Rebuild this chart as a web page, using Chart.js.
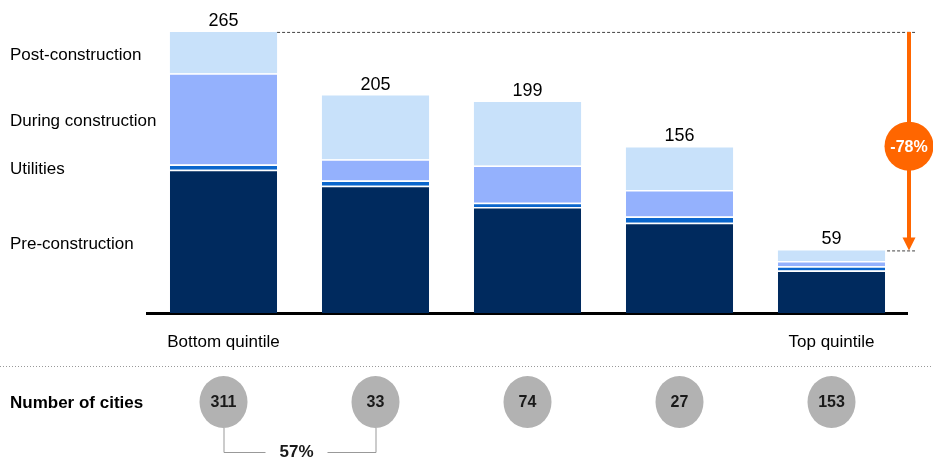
<!DOCTYPE html>
<html>
<head>
<meta charset="utf-8">
<script src="https://cdn.jsdelivr.net/npm/chart.js@4"></script>
<style>
  body { margin: 0; background: #fff; }
  #wrap { width: 933px; height: 461px; }
</style>
</head>
<body>
<div id="wrap"><canvas id="costChart" width="933" height="461"></canvas></div>
<script>
// data
var categories = ['Bottom quintile', '', '', '', 'Top quintile'];
var preConstruction = [135, 120, 100, 85, 40];
var utilities = [5, 5, 4, 6, 4];
var duringConstruction = [86, 20, 35, 25, 5];
var postConstruction = [39, 60, 60, 40, 10];
var totals = [265, 205, 199, 156, 59];
var cityCounts = [311, 33, 74, 27, 153];
var changeLabel = '-78%';
var cityShareLabel = '57%';
var rowLabel = 'Number of cities';

var FONT = "'Liberation Sans', Arial, sans-serif";

var annotations = {
	id: 'annotations',
	afterDraw: function(chart) {
		var ctx = chart.ctx;
		var area = chart.chartArea;
		var nSets = chart.data.datasets.length;
		var topMeta = chart.getDatasetMeta(nSets - 1);

		ctx.save();
		ctx.textBaseline = 'middle';

		// segment names next to the first bar
		ctx.font = '17px ' + FONT;
		ctx.fillStyle = '#000';
		ctx.textAlign = 'left';
		for (var i = 0; i < nSets; i++) {
			var el = chart.getDatasetMeta(i).data[0];
			ctx.fillText(chart.data.datasets[i].label, 10, (el.y + el.base) / 2 + 2.5);
		}

		// totals above the bars
		ctx.font = '18px ' + FONT;
		ctx.textAlign = 'center';
		for (var j = 0; j < totals.length; j++) {
			var bar = topMeta.data[j];
			ctx.fillText(totals[j], bar.x, bar.y - 11);
		}

		// dashed reference lines
		var first = topMeta.data[0];
		var last = topMeta.data[topMeta.data.length - 1];
		var ax = area.right + 1.5;
		ctx.strokeStyle = '#444';
		ctx.lineWidth = 1;
		ctx.setLineDash([3, 2]);
		ctx.beginPath();
		ctx.moveTo(first.x + first.width / 2, first.y + 0.5);
		ctx.lineTo(ax + 6, first.y + 0.5);
		ctx.moveTo(last.x + last.width / 2 + 2, last.y + 0.5);
		ctx.lineTo(ax + 6, last.y + 0.5);
		ctx.stroke();
		ctx.setLineDash([]);

		// orange arrow with badge
		var orange = '#FF6600';
		ctx.strokeStyle = orange;
		ctx.fillStyle = orange;
		ctx.lineWidth = 4;
		ctx.beginPath();
		ctx.moveTo(ax, first.y);
		ctx.lineTo(ax, last.y - 10);
		ctx.stroke();
		ctx.beginPath();
		ctx.moveTo(ax - 6.5, last.y - 13);
		ctx.lineTo(ax + 6.5, last.y - 13);
		ctx.lineTo(ax, last.y);
		ctx.closePath();
		ctx.fill();
		var cy = (first.y + last.y) / 2 + 5;
		ctx.beginPath();
		ctx.arc(ax, cy, 24.5, 0, Math.PI * 2);
		ctx.fill();
		ctx.fillStyle = '#fff';
		ctx.font = 'bold 16px ' + FONT;
		ctx.fillText(changeLabel, ax, cy + 1);

		// dotted separator
		ctx.strokeStyle = '#999';
		ctx.lineWidth = 1;
		ctx.setLineDash([1, 2]);
		ctx.beginPath();
		ctx.moveTo(0, 366.5);
		ctx.lineTo(933, 366.5);
		ctx.stroke();
		ctx.setLineDash([]);

		// number of cities row
		var rowY = 402;
		ctx.fillStyle = '#000';
		ctx.textAlign = 'left';
		ctx.font = 'bold 17px ' + FONT;
		ctx.fillText(rowLabel, 10, rowY + 1);
		ctx.textAlign = 'center';
		ctx.font = 'bold 16px ' + FONT;
		for (var k = 0; k < cityCounts.length; k++) {
			var cx = topMeta.data[k].x;
			ctx.fillStyle = '#B2B2B2';
			ctx.beginPath();
			ctx.ellipse(cx, rowY, 24, 26, 0, 0, Math.PI * 2);
			ctx.fill();
			ctx.fillStyle = '#1a1a1a';
			ctx.fillText(cityCounts[k], cx, rowY + 1);
		}

		// bracket between first two circles
		var x1 = topMeta.data[0].x, x2 = topMeta.data[1].x;
		var by = 452.5;
		var mid = (x1 + x2) / 2;
		ctx.strokeStyle = '#999';
		ctx.lineWidth = 1;
		ctx.beginPath();
		ctx.moveTo(x1 + 0.5, rowY + 26);
		ctx.lineTo(x1 + 0.5, by);
		ctx.lineTo(mid - 34, by);
		ctx.moveTo(mid + 28, by);
		ctx.lineTo(x2 + 0.5, by);
		ctx.lineTo(x2 + 0.5, rowY + 26);
		ctx.stroke();
		ctx.fillStyle = '#1a1a1a';
		ctx.font = 'bold 17px ' + FONT;
		ctx.fillText(cityShareLabel, mid - 3, by);

		ctx.restore();
	}
};

new Chart(document.getElementById('costChart'), {
	type: 'bar',
	data: {
		labels: categories,
		datasets: [
			{ label: 'Pre-construction', data: preConstruction, backgroundColor: '#002A5E',
			  borderColor: '#fff', borderWidth: { top: 1.5, bottom: 0, left: 0, right: 0 } },
			{ label: 'Utilities', data: utilities, backgroundColor: '#0A66CC',
			  borderColor: '#fff', borderWidth: { top: 1.5, bottom: 0, left: 0, right: 0 } },
			{ label: 'During construction', data: duringConstruction, backgroundColor: '#94B1FD',
			  borderColor: '#fff', borderWidth: { top: 1.5, bottom: 0, left: 0, right: 0 } },
			{ label: 'Post-construction', data: postConstruction, backgroundColor: '#C8E1FA',
			  borderWidth: 0 }
		]
	},
	options: {
		responsive: false,
		animation: false,
		layout: { padding: { left: 147.5, right: 25.5, top: 16, bottom: 0 } },
		datasets: { bar: { barPercentage: 0.705, categoryPercentage: 1, borderSkipped: false } },
		plugins: {
			legend: { display: false },
			tooltip: { enabled: false },
			title: { display: false }
		},
		scales: {
			x: {
				stacked: true,
				grid: { display: false, drawTicks: false },
				border: { display: true, color: '#000', width: 3 },
				ticks: { color: '#000', font: { family: FONT, size: 17 }, padding: 19,
				         autoSkip: false, maxRotation: 0 },
				afterFit: function(scale) { scale.height = 148; }
			},
			y: {
				stacked: true,
				display: false,
				min: 0,
				max: 280
			}
		}
	},
	plugins: [annotations]
});
</script>
</body>
</html>
